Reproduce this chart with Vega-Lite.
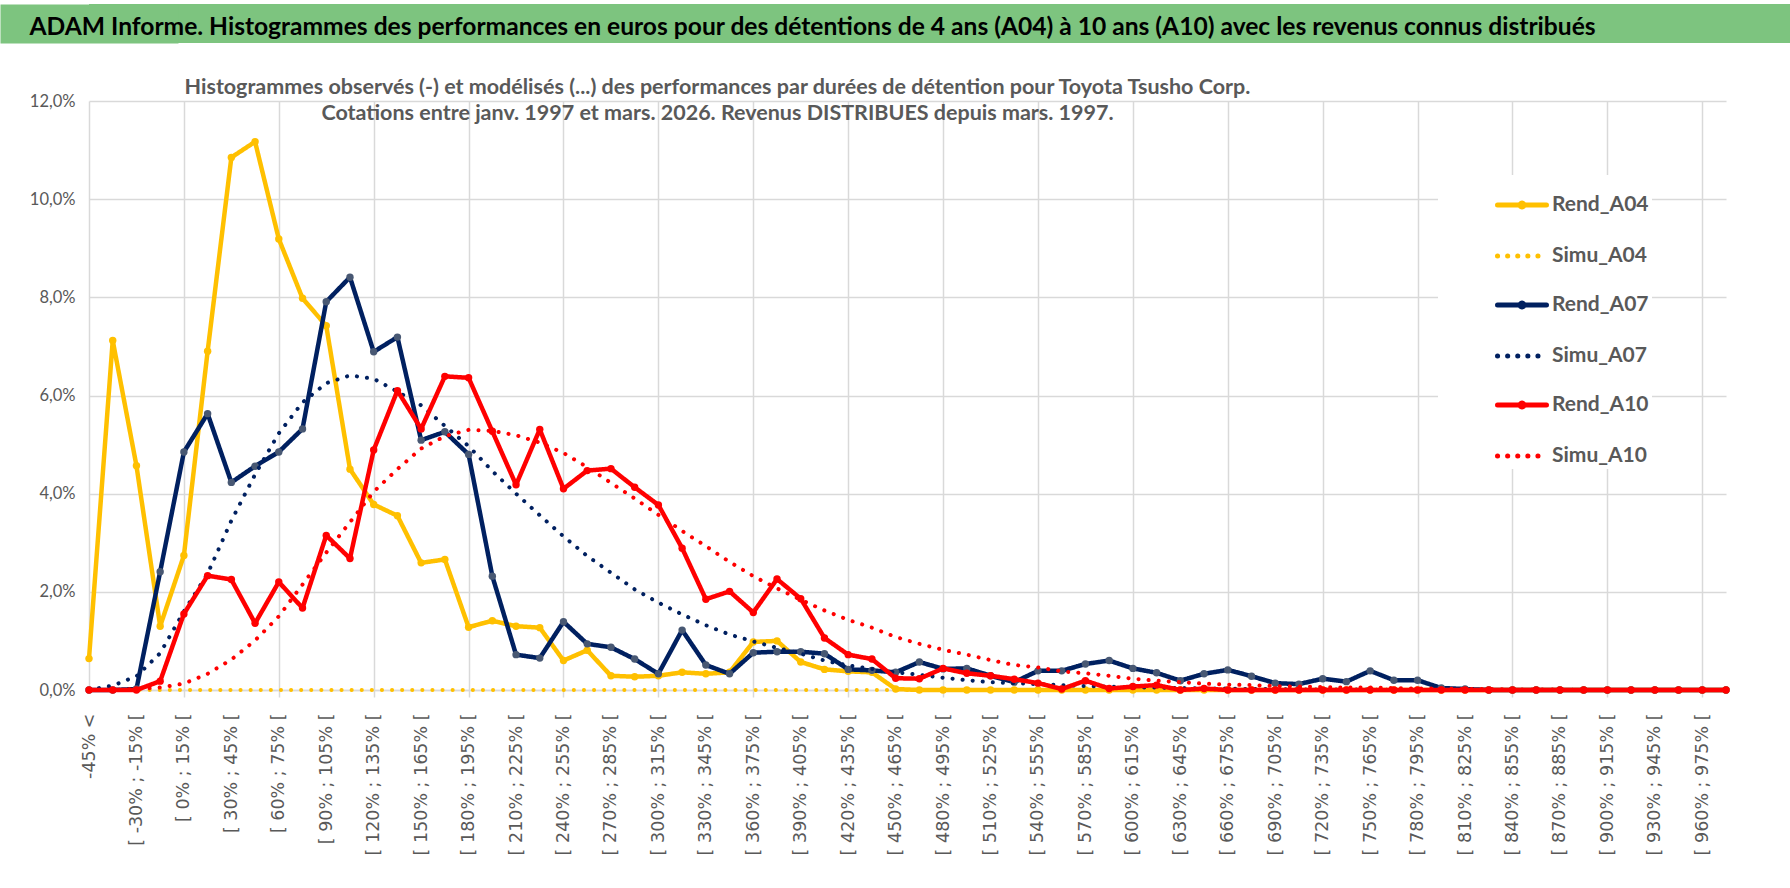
{
  "$schema": "https://vega.github.io/schema/vega-lite/v6.json",
  "background": "white",
  "padding": {"left": 0, "top": 4, "right": 0, "bottom": 0},
  "config": {
    "view": {"stroke": null},
    "axis": {"gridColor": "#D9D9D9", "gridWidth": 1.5, "domainColor": "#D9D9D9", "domainWidth": 1.5, "tickColor": "#D9D9D9", "tickWidth": 1.5, "labelColor": "#595959"},
    "legend": {
      "title": null,
      "orient": "none",
      "legendX": 1349,
      "legendY": 171,
      "symbolType": "stroke",
      "symbolSize": 2401,
      "symbolStrokeWidth": 5,
      "symbolOffset": 54,
      "labelOffset": 3,
      "padding": 3,
      "rowPadding": 12,
      "fillColor": "white",
      "labelFont": "Lato",
      "labelFontSize": 21,
      "labelFontWeight": "bold",
      "labelColor": "#595959",
      "labelLimit": 400
    }
  },
  "datasets": {
    "histo": [
      {"cat": "-45% <", "Rend_A04": 0.0064, "Simu_A04": 0, "Rend_A07": 0, "Simu_A07": 0, "Rend_A10": 0, "Simu_A10": 0},
      {"cat": "[ -45% ; -30% [", "Rend_A04": 0.0712, "Simu_A04": 0, "Rend_A07": 0, "Simu_A07": 0.0009, "Rend_A10": 0, "Simu_A10": 0},
      {"cat": "[ -30% ; -15% [", "Rend_A04": 0.0457, "Simu_A04": 0, "Rend_A07": 0.0002, "Simu_A07": 0.0028, "Rend_A10": 0, "Simu_A10": 0.0002},
      {"cat": "[ -15% ; 0% [", "Rend_A04": 0.0130, "Simu_A04": 0, "Rend_A07": 0.0241, "Simu_A07": 0.0075, "Rend_A10": 0.0018, "Simu_A10": 0.0005},
      {"cat": "[ 0% ; 15% [", "Rend_A04": 0.0274, "Simu_A04": 0, "Rend_A07": 0.0485, "Simu_A07": 0.0160, "Rend_A10": 0.0155, "Simu_A10": 0.0013},
      {"cat": "[ 15% ; 30% [", "Rend_A04": 0.0690, "Simu_A04": 0, "Rend_A07": 0.0563, "Simu_A07": 0.0237, "Rend_A10": 0.0233, "Simu_A10": 0.0033},
      {"cat": "[ 30% ; 45% [", "Rend_A04": 0.1085, "Simu_A04": 0, "Rend_A07": 0.0423, "Simu_A07": 0.0345, "Rend_A10": 0.0225, "Simu_A10": 0.0062},
      {"cat": "[ 45% ; 60% [", "Rend_A04": 0.1117, "Simu_A04": 0, "Rend_A07": 0.0456, "Simu_A07": 0.0439, "Rend_A10": 0.0136, "Simu_A10": 0.0101},
      {"cat": "[ 60% ; 75% [", "Rend_A04": 0.0919, "Simu_A04": 0, "Rend_A07": 0.0485, "Simu_A07": 0.0523, "Rend_A10": 0.0220, "Simu_A10": 0.0150},
      {"cat": "[ 75% ; 90% [", "Rend_A04": 0.0798, "Simu_A04": 0, "Rend_A07": 0.0532, "Simu_A07": 0.0586, "Rend_A10": 0.0167, "Simu_A10": 0.0215},
      {"cat": "[ 90% ; 105% [", "Rend_A04": 0.0742, "Simu_A04": 0, "Rend_A07": 0.0791, "Simu_A07": 0.0625, "Rend_A10": 0.0315, "Simu_A10": 0.0280},
      {"cat": "[ 105% ; 120% [", "Rend_A04": 0.0450, "Simu_A04": 0, "Rend_A07": 0.0841, "Simu_A07": 0.0641, "Rend_A10": 0.0268, "Simu_A10": 0.0342},
      {"cat": "[ 120% ; 135% [", "Rend_A04": 0.0378, "Simu_A04": 0, "Rend_A07": 0.0689, "Simu_A07": 0.0634, "Rend_A10": 0.0489, "Simu_A10": 0.0404},
      {"cat": "[ 135% ; 150% [", "Rend_A04": 0.0355, "Simu_A04": 0, "Rend_A07": 0.0719, "Simu_A07": 0.0608, "Rend_A10": 0.0610, "Simu_A10": 0.0450},
      {"cat": "[ 150% ; 165% [", "Rend_A04": 0.0259, "Simu_A04": 0, "Rend_A07": 0.0509, "Simu_A07": 0.0580, "Rend_A10": 0.0532, "Simu_A10": 0.0492},
      {"cat": "[ 165% ; 180% [", "Rend_A04": 0.0266, "Simu_A04": 0, "Rend_A07": 0.0526, "Simu_A07": 0.0538, "Rend_A10": 0.0639, "Simu_A10": 0.0517},
      {"cat": "[ 180% ; 195% [", "Rend_A04": 0.0128, "Simu_A04": 0, "Rend_A07": 0.0480, "Simu_A07": 0.0497, "Rend_A10": 0.0636, "Simu_A10": 0.0530},
      {"cat": "[ 195% ; 210% [", "Rend_A04": 0.0141, "Simu_A04": 0, "Rend_A07": 0.0232, "Simu_A07": 0.0446, "Rend_A10": 0.0527, "Simu_A10": 0.0528},
      {"cat": "[ 210% ; 225% [", "Rend_A04": 0.0130, "Simu_A04": 0, "Rend_A07": 0.0072, "Simu_A07": 0.0400, "Rend_A10": 0.0418, "Simu_A10": 0.0519},
      {"cat": "[ 225% ; 240% [", "Rend_A04": 0.0127, "Simu_A04": 0, "Rend_A07": 0.0065, "Simu_A07": 0.0356, "Rend_A10": 0.0531, "Simu_A10": 0.0504},
      {"cat": "[ 240% ; 255% [", "Rend_A04": 0.0060, "Simu_A04": 0, "Rend_A07": 0.0139, "Simu_A07": 0.0313, "Rend_A10": 0.0410, "Simu_A10": 0.0483},
      {"cat": "[ 255% ; 270% [", "Rend_A04": 0.0081, "Simu_A04": 0, "Rend_A07": 0.0094, "Simu_A07": 0.0273, "Rend_A10": 0.0447, "Simu_A10": 0.0454},
      {"cat": "[ 270% ; 285% [", "Rend_A04": 0.0029, "Simu_A04": 0, "Rend_A07": 0.0087, "Simu_A07": 0.0239, "Rend_A10": 0.0451, "Simu_A10": 0.0422},
      {"cat": "[ 285% ; 300% [", "Rend_A04": 0.0027, "Simu_A04": 0, "Rend_A07": 0.0063, "Simu_A07": 0.0205, "Rend_A10": 0.0413, "Simu_A10": 0.0390},
      {"cat": "[ 300% ; 315% [", "Rend_A04": 0.0029, "Simu_A04": 0, "Rend_A07": 0.0033, "Simu_A07": 0.0178, "Rend_A10": 0.0377, "Simu_A10": 0.0357},
      {"cat": "[ 315% ; 330% [", "Rend_A04": 0.0036, "Simu_A04": 0, "Rend_A07": 0.0122, "Simu_A07": 0.0154, "Rend_A10": 0.0289, "Simu_A10": 0.0324},
      {"cat": "[ 330% ; 345% [", "Rend_A04": 0.0033, "Simu_A04": 0, "Rend_A07": 0.0051, "Simu_A07": 0.0132, "Rend_A10": 0.0185, "Simu_A10": 0.0293},
      {"cat": "[ 345% ; 360% [", "Rend_A04": 0.0036, "Simu_A04": 0, "Rend_A07": 0.0033, "Simu_A07": 0.0113, "Rend_A10": 0.0201, "Simu_A10": 0.0261},
      {"cat": "[ 360% ; 375% [", "Rend_A04": 0.0098, "Simu_A04": 0, "Rend_A07": 0.0076, "Simu_A07": 0.0099, "Rend_A10": 0.0158, "Simu_A10": 0.0232},
      {"cat": "[ 375% ; 390% [", "Rend_A04": 0.0100, "Simu_A04": 0, "Rend_A07": 0.0078, "Simu_A07": 0.0086, "Rend_A10": 0.0226, "Simu_A10": 0.0207},
      {"cat": "[ 390% ; 405% [", "Rend_A04": 0.0057, "Simu_A04": 0, "Rend_A07": 0.0078, "Simu_A07": 0.0074, "Rend_A10": 0.0186, "Simu_A10": 0.0184},
      {"cat": "[ 405% ; 420% [", "Rend_A04": 0.0042, "Simu_A04": 0, "Rend_A07": 0.0074, "Simu_A07": 0.0060, "Rend_A10": 0.0106, "Simu_A10": 0.0162},
      {"cat": "[ 420% ; 435% [", "Rend_A04": 0.0038, "Simu_A04": 0, "Rend_A07": 0.0042, "Simu_A07": 0.0050, "Rend_A10": 0.0072, "Simu_A10": 0.0143},
      {"cat": "[ 435% ; 450% [", "Rend_A04": 0.0036, "Simu_A04": 0, "Rend_A07": 0.0040, "Simu_A07": 0.0043, "Rend_A10": 0.0063, "Simu_A10": 0.0127},
      {"cat": "[ 450% ; 465% [", "Rend_A04": 0.0002, "Simu_A04": 0, "Rend_A07": 0.0036, "Simu_A07": 0.0036, "Rend_A10": 0.0024, "Simu_A10": 0.0108},
      {"cat": "[ 465% ; 480% [", "Rend_A04": 0, "Simu_A04": 0, "Rend_A07": 0.0057, "Simu_A07": 0.0031, "Rend_A10": 0.0023, "Simu_A10": 0.0094},
      {"cat": "[ 480% ; 495% [", "Rend_A04": 0, "Simu_A04": 0, "Rend_A07": 0.0043, "Simu_A07": 0.0025, "Rend_A10": 0.0044, "Simu_A10": 0.0082},
      {"cat": "[ 495% ; 510% [", "Rend_A04": 0, "Simu_A04": 0, "Rend_A07": 0.0044, "Simu_A07": 0.0020, "Rend_A10": 0.0034, "Simu_A10": 0.0072},
      {"cat": "[ 510% ; 525% [", "Rend_A04": 0, "Simu_A04": 0, "Rend_A07": 0.0029, "Simu_A07": 0.0016, "Rend_A10": 0.0029, "Simu_A10": 0.0061},
      {"cat": "[ 525% ; 540% [", "Rend_A04": 0, "Simu_A04": 0, "Rend_A07": 0.0016, "Simu_A07": 0.0014, "Rend_A10": 0.0022, "Simu_A10": 0.0051},
      {"cat": "[ 540% ; 555% [", "Rend_A04": 0, "Simu_A04": 0, "Rend_A07": 0.0039, "Simu_A07": 0.0012, "Rend_A10": 0.0014, "Simu_A10": 0.0046},
      {"cat": "[ 555% ; 570% [", "Rend_A04": 0, "Simu_A04": 0, "Rend_A07": 0.0039, "Simu_A07": 0.0010, "Rend_A10": 0.0002, "Simu_A10": 0.0038},
      {"cat": "[ 570% ; 585% [", "Rend_A04": 0, "Simu_A04": 0, "Rend_A07": 0.0053, "Simu_A07": 0.0008, "Rend_A10": 0.0019, "Simu_A10": 0.0034},
      {"cat": "[ 585% ; 600% [", "Rend_A04": 0, "Simu_A04": 0, "Rend_A07": 0.0060, "Simu_A07": 0.0007, "Rend_A10": 0.0003, "Simu_A10": 0.0029},
      {"cat": "[ 600% ; 615% [", "Rend_A04": 0, "Simu_A04": 0, "Rend_A07": 0.0044, "Simu_A07": 0.0005, "Rend_A10": 0.0007, "Simu_A10": 0.0023},
      {"cat": "[ 615% ; 630% [", "Rend_A04": 0, "Simu_A04": 0, "Rend_A07": 0.0035, "Simu_A07": 0.0005, "Rend_A10": 0.0010, "Simu_A10": 0.0019},
      {"cat": "[ 630% ; 645% [", "Rend_A04": 0, "Simu_A04": 0, "Rend_A07": 0.0019, "Simu_A07": 0.0004, "Rend_A10": 0, "Simu_A10": 0.0016},
      {"cat": "[ 645% ; 660% [", "Rend_A04": 0, "Simu_A04": 0, "Rend_A07": 0.0033, "Simu_A07": 0.0003, "Rend_A10": 0.0003, "Simu_A10": 0.0013},
      {"cat": "[ 660% ; 675% [", "Rend_A04": 0, "Simu_A04": 0, "Rend_A07": 0.0041, "Simu_A07": 0.0003, "Rend_A10": 0, "Simu_A10": 0.0011},
      {"cat": "[ 675% ; 690% [", "Rend_A04": 0, "Simu_A04": 0, "Rend_A07": 0.0028, "Simu_A07": 0.0002, "Rend_A10": 0, "Simu_A10": 0.0010},
      {"cat": "[ 690% ; 705% [", "Rend_A04": 0, "Simu_A04": 0, "Rend_A07": 0.0014, "Simu_A07": 0.0002, "Rend_A10": 0, "Simu_A10": 0.0008},
      {"cat": "[ 705% ; 720% [", "Rend_A04": 0, "Simu_A04": 0, "Rend_A07": 0.0012, "Simu_A07": 0.0001, "Rend_A10": 0, "Simu_A10": 0.0007},
      {"cat": "[ 720% ; 735% [", "Rend_A04": 0, "Simu_A04": 0, "Rend_A07": 0.0023, "Simu_A07": 0.0001, "Rend_A10": 0, "Simu_A10": 0.0006},
      {"cat": "[ 735% ; 750% [", "Rend_A04": 0, "Simu_A04": 0, "Rend_A07": 0.0017, "Simu_A07": 0.0001, "Rend_A10": 0, "Simu_A10": 0.0005},
      {"cat": "[ 750% ; 765% [", "Rend_A04": 0, "Simu_A04": 0, "Rend_A07": 0.0039, "Simu_A07": 0.0001, "Rend_A10": 0, "Simu_A10": 0.0005},
      {"cat": "[ 765% ; 780% [", "Rend_A04": 0, "Simu_A04": 0, "Rend_A07": 0.0020, "Simu_A07": 0, "Rend_A10": 0, "Simu_A10": 0.0004},
      {"cat": "[ 780% ; 795% [", "Rend_A04": 0, "Simu_A04": 0, "Rend_A07": 0.0020, "Simu_A07": 0, "Rend_A10": 0, "Simu_A10": 0.0003},
      {"cat": "[ 795% ; 810% [", "Rend_A04": 0, "Simu_A04": 0, "Rend_A07": 0.0004, "Simu_A07": 0, "Rend_A10": 0, "Simu_A10": 0.0003},
      {"cat": "[ 810% ; 825% [", "Rend_A04": 0, "Simu_A04": 0, "Rend_A07": 0.0002, "Simu_A07": 0, "Rend_A10": 0, "Simu_A10": 0.0002},
      {"cat": "[ 825% ; 840% [", "Rend_A04": 0, "Simu_A04": 0, "Rend_A07": 0, "Simu_A07": 0, "Rend_A10": 0, "Simu_A10": 0.0002},
      {"cat": "[ 840% ; 855% [", "Rend_A04": 0, "Simu_A04": 0, "Rend_A07": 0, "Simu_A07": 0, "Rend_A10": 0, "Simu_A10": 0.0001},
      {"cat": "[ 855% ; 870% [", "Rend_A04": 0, "Simu_A04": 0, "Rend_A07": 0, "Simu_A07": 0, "Rend_A10": 0, "Simu_A10": 0.0001},
      {"cat": "[ 870% ; 885% [", "Rend_A04": 0, "Simu_A04": 0, "Rend_A07": 0, "Simu_A07": 0, "Rend_A10": 0, "Simu_A10": 0.0001},
      {"cat": "[ 885% ; 900% [", "Rend_A04": 0, "Simu_A04": 0, "Rend_A07": 0, "Simu_A07": 0, "Rend_A10": 0, "Simu_A10": 0},
      {"cat": "[ 900% ; 915% [", "Rend_A04": 0, "Simu_A04": 0, "Rend_A07": 0, "Simu_A07": 0, "Rend_A10": 0, "Simu_A10": 0},
      {"cat": "[ 915% ; 930% [", "Rend_A04": 0, "Simu_A04": 0, "Rend_A07": 0, "Simu_A07": 0, "Rend_A10": 0, "Simu_A10": 0},
      {"cat": "[ 930% ; 945% [", "Rend_A04": 0, "Simu_A04": 0, "Rend_A07": 0, "Simu_A07": 0, "Rend_A10": 0, "Simu_A10": 0},
      {"cat": "[ 945% ; 960% [", "Rend_A04": 0, "Simu_A04": 0, "Rend_A07": 0, "Simu_A07": 0, "Rend_A10": 0, "Simu_A10": 0},
      {"cat": "[ 960% ; 975% [", "Rend_A04": 0, "Simu_A04": 0, "Rend_A07": 0, "Simu_A07": 0, "Rend_A10": 0, "Simu_A10": 0},
      {"cat": "[ 975% ; 990% [", "Rend_A04": 0, "Simu_A04": 0, "Rend_A07": 0, "Simu_A07": 0, "Rend_A10": 0, "Simu_A10": 0}
    ]
  },
  "spacing": 33,
  "vconcat": [
    {
      "width": 1701,
      "height": 39,
      "view": {"fill": "#7DC47F", "stroke": null},
      "data": {"values": [{"bandeau": "titre", "titre": "ADAM Informe. Histogrammes des performances en euros pour des détentions de 4 ans (A04) à 10 ans (A10) avec les revenus connus distribués"}]},
      "mark": {"type": "text", "align": "left", "baseline": "alphabetic", "dx": -910, "dy": 11, "font": "Lato", "fontWeight": "bold", "fontSize": 24.6, "color": "#000000"},
      "encoding": {
        "text": {"field": "titre"},
        "y": {
          "field": "bandeau",
          "type": "nominal",
          "title": null,
          "axis": {"labels": false, "ticks": false, "grid": false, "domainColor": "#7DC47F", "domainWidth": 178, "offset": 0, "minExtent": 89, "maxExtent": 89}
        }
      }
    },
    {
      "width": 1637,
      "height": 589,
      "data": {"name": "histo"},
      "title": {
        "text": ["Histogrammes observés (-) et modélisés (...) des performances par durées de détention pour Toyota Tsusho Corp.", "Cotations entre janv. 1997 et mars. 2026. Revenus DISTRIBUES depuis mars. 1997."],
        "anchor": "middle",
        "dx": -190,
        "offset": -48,
        "baseline": "alphabetic",
        "lineHeight": 26,
        "font": "Lato",
        "fontSize": 21.5,
        "fontWeight": "bold",
        "color": "#595959"
      },
      "transform": [
        {"fold": ["Rend_A04", "Simu_A04", "Rend_A07", "Simu_A07", "Rend_A10", "Simu_A10"], "as": ["serie", "v"]}
      ],
      "encoding": {
        "x": {
          "field": "cat",
          "type": "nominal",
          "sort": null,
          "scale": {"type": "point", "padding": 0},
          "axis": {
            "title": null,
            "labelAngle": -90,
            "labelFont": "DejaVu Sans",
            "labelFontSize": 17.5,
            "labelPadding": 16,
            "labelOverlap": false,
            "labelExpr": "datum.value == '-45% <' || parseInt(substring(datum.value, 2)) % 30 == 0 ? datum.value : ''",
            "tickSize": 7,
            "grid": true,
            "gridOpacity": {"condition": {"test": "datum.value == '-45% <' || parseInt(substring(datum.value, 2)) % 60 == 0", "value": 1}, "value": 0},
            "tickOpacity": {"condition": {"test": "parseInt(substring(datum.value, 2)) % 60 == 0", "value": 1}, "value": 0}
          }
        },
        "y": {
          "field": "v",
          "type": "quantitative",
          "scale": {"domain": [0, 0.12], "nice": false},
          "axis": {
            "title": null,
            "values": [0, 0.02, 0.04, 0.06, 0.08, 0.1, 0.12],
            "labelExpr": "replace(format(datum.value, '.1%'), '.', ',')",
            "labelFont": "Lato",
            "labelFontSize": 16.5,
            "labelPadding": 14,
            "ticks": false,
            "domain": false,
            "minExtent": 89,
            "maxExtent": 89
          }
        }
      },
      "layer": [
        {
          "transform": [{"filter": "datum.serie == 'Rend_A04'"}],
          "mark": {"type": "line", "strokeWidth": 4.5, "strokeJoin": "round", "strokeCap": "round"},
          "encoding": {
            "color": {
              "field": "serie",
              "type": "nominal",
              "scale": {"domain": ["Rend_A04", "Simu_A04", "Rend_A07", "Simu_A07", "Rend_A10", "Simu_A10"], "range": ["#FFC000", "#FFC000", "#002060", "#002060", "#FF0000", "#FF0000"]},
              "legend": {
                "encode": {
                  "symbols": {
                    "update": {
                      "strokeCap": {"value": "round"},
                      "shape": [
                        {"test": "indexof(datum.label, 'Rend') == 0", "value": "M-1,0L1,0M-0.08,0a0.08,0.08 0 1,0 0.16,0a0.08,0.08 0 1,0 -0.16,0"},
                        {"value": "stroke"}
                      ]
                    }
                  }
                }
              }
            },
            "strokeDash": {"field": "serie", "type": "nominal", "scale": {"domain": ["Rend_A04", "Simu_A04", "Rend_A07", "Simu_A07", "Rend_A10", "Simu_A10"], "range": [[1, 0], [0.1, 10], [1, 0], [0.1, 10], [1, 0], [0.1, 10]]}}
          }
        },
        {
          "transform": [{"filter": "datum.serie == 'Rend_A04'"}],
          "mark": {"type": "circle", "size": 55, "opacity": 1, "color": "#FFC000"}
        },
        {
          "transform": [{"filter": "datum.serie == 'Simu_A04'"}],
          "mark": {"type": "line", "strokeWidth": 4, "strokeCap": "round"},
          "encoding": {
            "color": {"field": "serie", "type": "nominal"},
            "strokeDash": {"field": "serie", "type": "nominal"}
          }
        },
        {
          "transform": [{"filter": "datum.serie == 'Rend_A07'"}],
          "mark": {"type": "line", "strokeWidth": 4.5, "strokeJoin": "round", "strokeCap": "round"},
          "encoding": {
            "color": {"field": "serie", "type": "nominal"},
            "strokeDash": {"field": "serie", "type": "nominal"}
          }
        },
        {
          "transform": [{"filter": "datum.serie == 'Rend_A07'"}],
          "mark": {"type": "circle", "size": 55, "opacity": 1, "color": "#485873"}
        },
        {
          "transform": [{"filter": "datum.serie == 'Simu_A07'"}],
          "mark": {"type": "line", "strokeWidth": 4, "strokeCap": "round"},
          "encoding": {
            "color": {"field": "serie", "type": "nominal"},
            "strokeDash": {"field": "serie", "type": "nominal"}
          }
        },
        {
          "transform": [{"filter": "datum.serie == 'Rend_A10'"}],
          "mark": {"type": "line", "strokeWidth": 4.5, "strokeJoin": "round", "strokeCap": "round"},
          "encoding": {
            "color": {"field": "serie", "type": "nominal"},
            "strokeDash": {"field": "serie", "type": "nominal"}
          }
        },
        {
          "transform": [{"filter": "datum.serie == 'Rend_A10'"}],
          "mark": {"type": "circle", "size": 55, "opacity": 1, "color": "#FF0000"}
        },
        {
          "transform": [{"filter": "datum.serie == 'Simu_A10'"}],
          "mark": {"type": "line", "strokeWidth": 4, "strokeCap": "round"},
          "encoding": {
            "color": {"field": "serie", "type": "nominal"},
            "strokeDash": {"field": "serie", "type": "nominal"}
          }
        }
      ]
    }
  ]
}
